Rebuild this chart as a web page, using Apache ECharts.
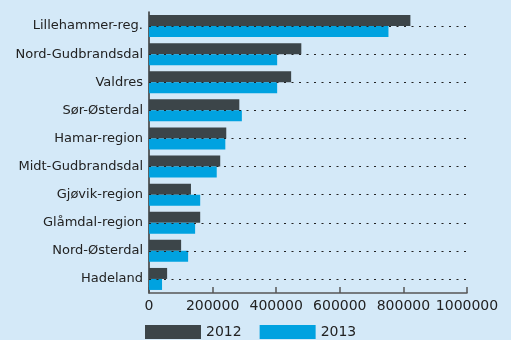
<!DOCTYPE html>
<html><head><meta charset="utf-8">
<script src="https://cdn.jsdelivr.net/npm/echarts@6/dist/echarts.min.js"></script>
<style>html,body{margin:0;padding:0;background:#d4e9f8;}#c{width:511px;height:340px;}</style>
</head><body><div id="c"></div>
<script>
const categories = ['Lillehammer-reg.','Nord-Gudbrandsdal','Valdres','Sør-Østerdal','Hamar-region','Midt-Gudbrandsdal','Gjøvik-region','Glåmdal-region','Nord-Østerdal','Hadeland'];
const values2012 = [822000,479000,447000,284000,243000,224000,132000,161000,101000,57000];
const values2013 = [753000,403000,403000,292000,240000,213000,161000,145000,123000,41000];
const seriesNames = ['2012','2013'];
const xTicks = [0,200000,400000,600000,800000,1000000];

const chart = echarts.init(document.getElementById('c'));
chart.setOption({
  backgroundColor:'#d4e9f8',
  animation:false,
  grid:{left:149,right:44,top:12,bottom:47,containLabel:false},
  legend:{
    data:seriesNames, left:145, top:325, itemWidth:56, itemHeight:14, itemGap:18,
    icon:'rect', textStyle:{fontFamily:'DejaVu Sans',fontSize:14,color:'#222'}, padding:0
  },
  xAxis:{
    type:'value', min:xTicks[0], max:xTicks[xTicks.length-1], interval:200000,
    axisLine:{show:true,lineStyle:{color:'#555',width:1.5}},
    axisTick:{show:true,inside:true,length:6,lineStyle:{color:'#555',width:1.5}},
    axisLabel:{fontFamily:'DejaVu Sans',fontSize:14,color:'#222',margin:6,
      showMinLabel:true, showMaxLabel:true, hideOverlap:false,
      formatter:v=>String(v)},
    splitLine:{show:false}
  },
  yAxis:{
    type:'category', data:categories, inverse:true,
    axisLine:{show:true,lineStyle:{color:'#333',width:1.5}},
    axisTick:{show:false},
    axisLabel:{fontFamily:'DejaVu Sans',fontSize:13,color:'#222',margin:6},
    splitLine:{show:false}
  },
  series:[
    {name:'grid', type:'line', data:[], z:1, silent:true,
     markLine:{silent:true, symbol:['none','none'], label:{show:false},
       lineStyle:{type:[2,5.5],color:'#222',width:1},
       data:categories.map(c=>({yAxis:c}))}},
    {name:seriesNames[0], type:'bar', data:values2012, barWidth:11, barGap:'0%', z:2,
     itemStyle:{color:'#3c4549'}},
    {name:seriesNames[1], type:'bar', data:values2013, barWidth:11, barGap:'0%', z:2,
     itemStyle:{color:'#00a2e0'}}
  ]
});
</script></body></html>
